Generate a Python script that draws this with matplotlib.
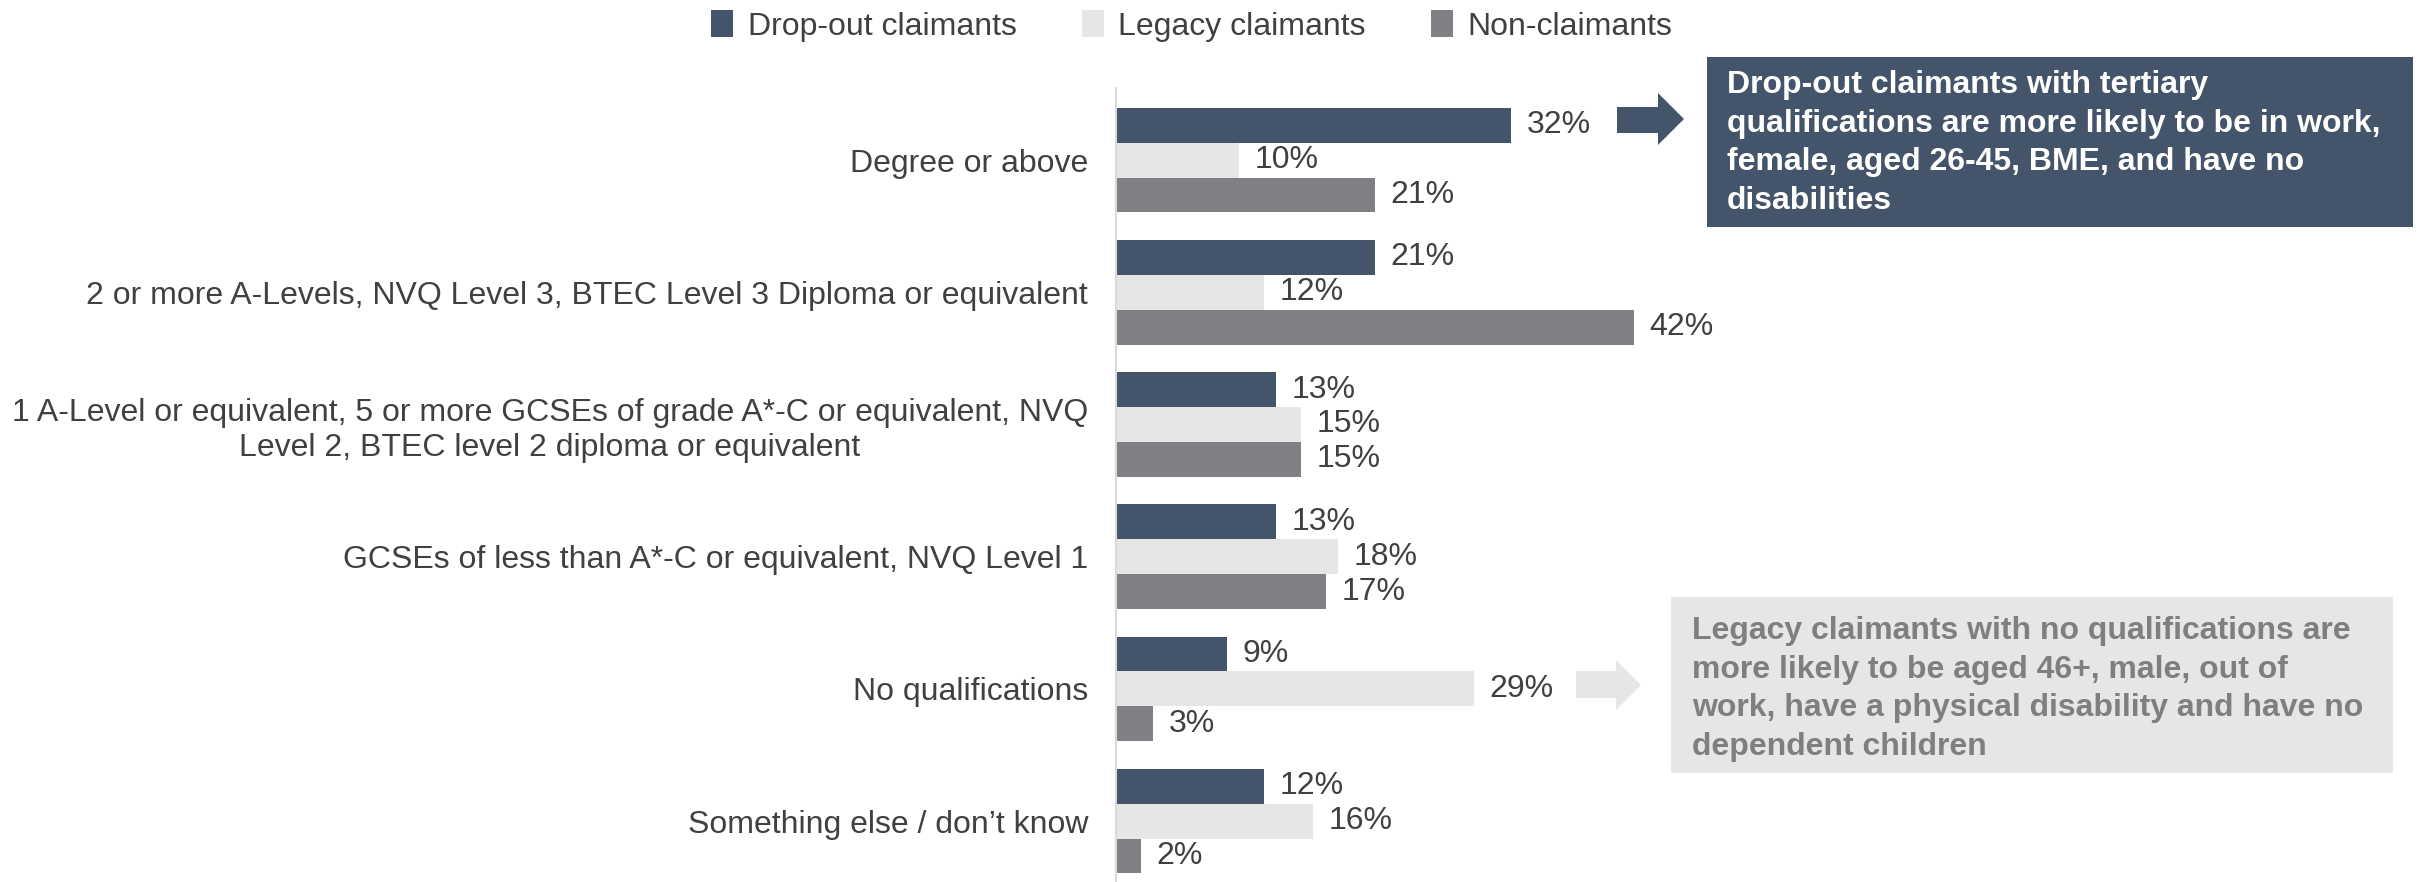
import numpy as np
import matplotlib
matplotlib.use("Agg")
import matplotlib.pyplot as plt
from matplotlib.patches import Rectangle, Polygon

plt.rcParams['font.family'] = ['Liberation Sans', 'DejaVu Sans']

# Data
categories = [
    "Degree or above",
    "2 or more A-Levels, NVQ Level 3, BTEC Level 3 Diploma or equivalent",
    "1 A-Level or equivalent, 5 or more GCSEs of grade A*-C or equivalent, NVQ\nLevel 2, BTEC level 2 diploma or equivalent",
    "GCSEs of less than A*-C or equivalent, NVQ Level 1",
    "No qualifications",
    "Something else / don\u2019t know",
]
series_names = ["Drop-out claimants", "Legacy claimants", "Non-claimants"]
dropout = [32, 21, 13, 13, 9, 12]
legacy = [10, 12, 15, 18, 29, 16]
non_claimants = [21, 42, 15, 17, 3, 2]

colors = ["#44546A", "#E7E6E6", "#808084"]
text_col = "#404040"

note_dropout = ("Drop-out claimants with tertiary\n"
                "qualifications are more likely to be in work,\n"
                "female, aged 26-45, BME, and have no\n"
                "disabilities")
note_legacy = ("Legacy claimants with no qualifications are\n"
               "more likely to be aged 46+, male, out of\n"
               "work, have a physical disability and have no\n"
               "dependent children")

W, H = 2430, 882
fig = plt.figure(figsize=(W / 100, H / 100), dpi=100)

ax_left = 1116
ax = fig.add_axes([ax_left / W, 0, 1 - ax_left / W, (H - 88) / H])

y = np.arange(len(categories))
h = 0.264
fs = 23
for k, (vals, col) in enumerate(zip([dropout, legacy, non_claimants], colors)):
    ypos = y + (k - 1) * h
    ax.barh(ypos, vals, height=h, color=col, label=series_names[k])
    for yy, v in zip(ypos, vals):
        ax.text(v + 1.25, yy, f"{v}%", va="center", ha="left",
                fontsize=fs, color=text_col)

ax.set_xlim(0, (W - ax_left) / 12.34)
ax.set_ylim(5.461, -0.545)
ax.set_yticks(y)
ax.set_yticklabels(categories, fontsize=fs, color=text_col,
                   multialignment="center")
ax.tick_params(axis="y", length=0, pad=20)
ax.set_xticks([])
for s in ["top", "right", "bottom"]:
    ax.spines[s].set_visible(False)
ax.spines["left"].set_color("#D9D9D9")
ax.spines["left"].set_linewidth(1.5)

leg = fig.legend(loc="center", bbox_to_anchor=(1192 / W, 1 - 26 / H),
                 ncol=3, frameon=False, fontsize=fs, handlelength=0.69,
                 handleheight=0.88, handletextpad=0.45, columnspacing=2.05,
                 borderaxespad=0)
for t in leg.get_texts():
    t.set_color(text_col)


def px(x, yy):
    return (x / W, 1 - yy / H)


def box(x0, y0, x1, y1, fc):
    fig.patches.append(Rectangle(px(x0, y1), (x1 - x0) / W, (y1 - y0) / H,
                                 transform=fig.transFigure, facecolor=fc,
                                 edgecolor="none"))


def arrow(x0, xs, xt, ys0, ys1, yh0, yh1, fc):
    pts = [(x0, ys0), (xs, ys0), (xs, yh0), (xt, (yh0 + yh1) / 2),
           (xs, yh1), (xs, ys1), (x0, ys1)]
    fig.patches.append(Polygon([px(a, b) for a, b in pts], closed=True,
                               transform=fig.transFigure, facecolor=fc,
                               edgecolor="none"))


# callout for drop-out claimants
box(1707, 57, 2413, 227, "#44546A")
arrow(1617, 1658, 1684, 107, 133, 93, 145, "#44546A")
fig.text(*px(1727, 143), note_dropout, ha="left", va="center",
         fontsize=23, fontweight="bold", color="white", linespacing=1.37)

# callout for legacy claimants
box(1671, 597, 2393, 773, "#E7E6E6")
arrow(1576, 1616, 1641, 671, 698, 660, 710, "#E7E6E6")
fig.text(*px(1692, 689), note_legacy, ha="left", va="center",
         fontsize=23, fontweight="bold", color="#7F7F7F", linespacing=1.37)

fig.savefig("out.png", dpi=100, facecolor="white")
